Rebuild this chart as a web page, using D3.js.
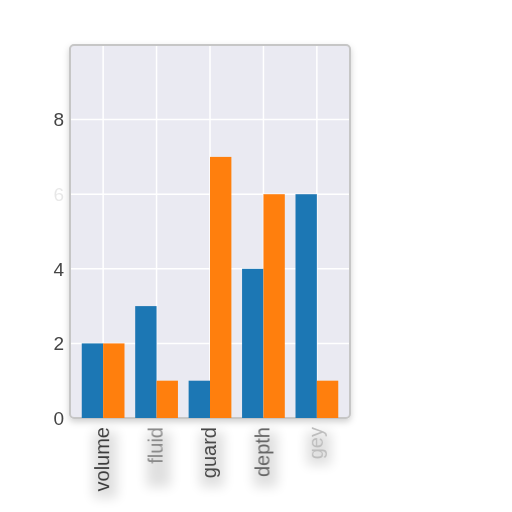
<!DOCTYPE html>
<html>
<head>
<meta charset="utf-8">
<script src="https://cdn.jsdelivr.net/npm/d3@7"></script>
<style>
  body { margin: 0; background: #fff; }
  text { font-family: "Liberation Sans", Arial, sans-serif; }
</style>
</head>
<body>
<script>
var categories = ['volume', 'fluid', 'guard', 'depth', 'gey'];
var seriesBlue = [2, 3, 1, 4, 6];
var seriesOrange = [2, 1, 7, 6, 1];
var yTicks = [0, 2, 4, 6, 8];
var yTickLabels = ['0', '2', '4', '6', '8'];
var labelColors = ['#3c3c3c', '#8a8a8a', '#4a4a4a', '#666', '#bdbdbd'];
var yLabelOpacity = [1, 1, 1, 0.12, 1];

var chart = function() {
  var width = 512, height = 512;
  var plotLeft = 70, plotRight = 350, plotTop = 45, plotBottom = 418;
  var barWidth = 0.4;

  var svg = d3.select('body').append('svg')
    .attr('width', width)
    .attr('height', height);

  var defs = svg.append('defs');
  var shadow = defs.append('filter').attr('id', 'shadow')
    .attr('x', '-20%').attr('y', '-20%').attr('width', '140%').attr('height', '140%');
  shadow.append('feDropShadow')
    .attr('dx', 0).attr('dy', 3).attr('stdDeviation', 3)
    .attr('flood-color', '#000').attr('flood-opacity', 0.18);
  var blur = defs.append('filter').attr('id', 'blur')
    .attr('x', '-30%').attr('y', '-30%').attr('width', '160%').attr('height', '160%');
  blur.append('feGaussianBlur').attr('stdDeviation', 0.5);
  var labelShadow = defs.append('filter').attr('id', 'labelShadow')
    .attr('x', '-80%').attr('y', '-40%').attr('width', '260%').attr('height', '180%');
  labelShadow.append('feGaussianBlur').attr('stdDeviation', 6);

  var x = d3.scaleLinear().domain([-0.62, 4.62]).range([plotLeft, plotRight]);
  var y = d3.scaleLinear().domain([0, 10]).range([plotBottom, plotTop]);

  // shadow blobs under x labels
  svg.append('g').selectAll('rect')
    .data(categories)
    .enter().append('rect')
    .attr('x', function(d, i) { return x(i) - 10; })
    .attr('y', 432)
    .attr('width', 24)
    .attr('height', function(d) { return d.length * 11; })
    .style('fill', '#000')
    .style('opacity', 0.12)
    .attr('filter', 'url(#labelShadow)');

  // frame
  svg.append('rect')
    .attr('x', plotLeft).attr('y', plotTop)
    .attr('width', plotRight - plotLeft).attr('height', plotBottom - plotTop)
    .attr('rx', 4)
    .style('fill', '#eaeaf2')
    .style('stroke', '#c6c6c6')
    .style('stroke-width', 2)
    .attr('filter', 'url(#shadow)');

  // grid
  svg.append('g').selectAll('line')
    .data(yTicks.slice(1))
    .enter().append('line')
    .attr('x1', plotLeft + 1).attr('x2', plotRight - 1)
    .attr('y1', function(d) { return y(d); })
    .attr('y2', function(d) { return y(d); })
    .style('stroke', '#fff').style('stroke-width', 1.5);

  svg.append('g').selectAll('line')
    .data(categories)
    .enter().append('line')
    .attr('x1', function(d, i) { return x(i); })
    .attr('x2', function(d, i) { return x(i); })
    .attr('y1', plotTop + 1).attr('y2', plotBottom - 1)
    .style('stroke', '#fff').style('stroke-width', 1.5);

  // bars
  var bars = svg.append('g').attr('filter', 'url(#blur)');
  bars.selectAll('rect.blue')
    .data(seriesBlue)
    .enter().append('rect')
    .attr('class', 'blue')
    .attr('x', function(d, i) { return x(i - barWidth); })
    .attr('width', x(barWidth) - x(0))
    .attr('y', function(d) { return y(d); })
    .attr('height', function(d) { return y(0) - y(d); })
    .style('fill', '#1f77b4');
  bars.selectAll('rect.orange')
    .data(seriesOrange)
    .enter().append('rect')
    .attr('class', 'orange')
    .attr('x', function(d, i) { return x(i); })
    .attr('width', x(barWidth) - x(0))
    .attr('y', function(d) { return y(d); })
    .attr('height', function(d) { return y(0) - y(d); })
    .style('fill', '#ff7f0e');

  // y tick labels
  svg.append('g').selectAll('text')
    .data(yTicks)
    .enter().append('text')
    .attr('x', 64)
    .attr('y', function(d) { return y(d); })
    .attr('dy', '0.36em')
    .attr('text-anchor', 'end')
    .style('font-size', '19px')
    .style('fill', '#444')
    .style('opacity', function(d, i) { return yLabelOpacity[i]; })
    .attr('filter', 'url(#blur)')
    .text(function(d, i) { return yTickLabels[i]; });

  // x labels
  svg.append('g').selectAll('text')
    .data(categories)
    .enter().append('text')
    .attr('transform', function(d, i) { return 'translate(' + (x(i) + 6) + ',427) rotate(-90)'; })
    .attr('text-anchor', 'end')
    .style('font-size', '20px')
    .style('fill', function(d, i) { return labelColors[i]; })
    .attr('filter', 'url(#blur)')
    .text(function(d) { return d; });
};

chart();
</script>
</body>
</html>
